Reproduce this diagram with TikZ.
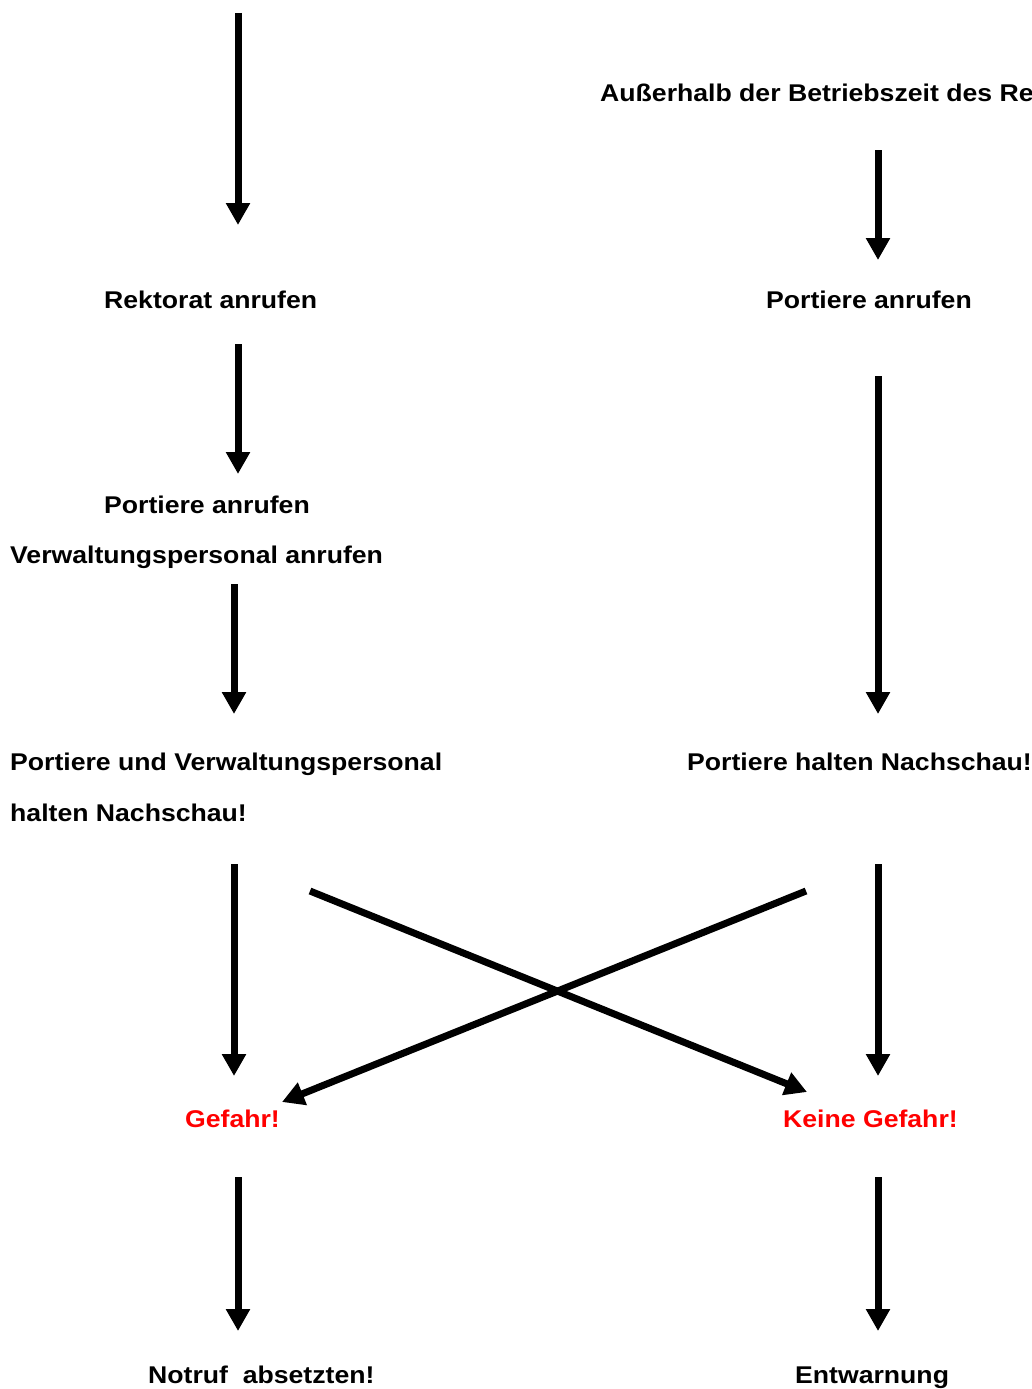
\documentclass[tikz,border=0pt]{standalone}
\usepackage{fontspec}
\setmainfont[FakeStretch=1.1]{Liberation Sans}
\usetikzlibrary{arrows.meta}

\tikzset{
  txt/.style={anchor=base west,inner sep=0pt,font=\fontsize{24.2pt}{29pt}\selectfont\bfseries},
  warn/.style={txt,text=red},
  pfeil/.style={line width=7pt,-{Triangle[length=22pt,width=23pt]}}
}

\begin{document}
\begin{tikzpicture}[x=1pt,y=-1pt]
\useasboundingbox (0,0) rectangle (1032,1389);
% texts
\node[txt] (aus)  at (600,101)  {Außerhalb der Betriebszeit des Re};
\node[txt] (rek)  at (104,308)  {Rektorat anrufen};
\node[txt] (porR) at (766,308)  {Portiere anrufen};
\node[txt] (porL) at (104,513)  {Portiere anrufen};
\node[txt] (verw) at (10,563)   {Verwaltungspersonal anrufen};
\node[txt] (nachL) at (10,770)  {Portiere und Verwaltungspersonal};
\node[txt] (nachL2) at (10,821) {halten Nachschau!};
\node[txt] (nachR) at (687,770) {Portiere halten Nachschau!};
\node[warn] (gef)  at (185,1127) {Gefahr!};
\node[warn] (kgef) at (783,1127) {Keine Gefahr!};
\node[txt] (notruf) at (148,1383) {Notruf\ \ absetzten!};
\node[txt] (entw)   at (795,1383) {Entwarnung};
% arrow ends
\coordinate (a1s) at (238,13);   \coordinate (a1e) at (238,225);
\coordinate (a2s) at (878,150);  \coordinate (a2e) at (878,260);
\coordinate (a3s) at (238,344);  \coordinate (a3e) at (238,474);
\coordinate (a4s) at (878,376);  \coordinate (a4e) at (878,714);
\coordinate (a5s) at (234,584);  \coordinate (a5e) at (234,714);
\coordinate (a6s) at (234,864);  \coordinate (a6e) at (234,1076);
\coordinate (a7s) at (878,864);  \coordinate (a7e) at (878,1076);
\coordinate (a8s) at (238,1177); \coordinate (a8e) at (238,1331);
\coordinate (a9s) at (878,1177); \coordinate (a9e) at (878,1331);
\coordinate (xls) at (310,891);  \coordinate (xle) at (807,1092);
\coordinate (xrs) at (806,891);  \coordinate (xre) at (282,1102);
% arrows
\foreach \s/\e in {a1s/a1e,a2s/a2e,a3s/a3e,a4s/a4e,a5s/a5e,a6s/a6e,a7s/a7e,a8s/a8e,a9s/a9e,xls/xle,xrs/xre}
  \draw[pfeil] (\s) -- (\e);
\end{tikzpicture}
\end{document}
